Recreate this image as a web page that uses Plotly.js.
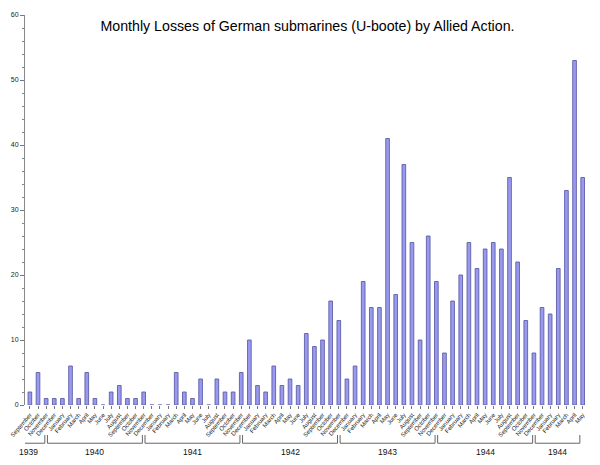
<!DOCTYPE html>
<html>
<head>
<meta charset="utf-8">
<script src="https://cdn.plot.ly/plotly-3.0.1.min.js"></script>
<style>html,body{margin:0;padding:0;background:#fff;}#chart{width:600px;height:465px;}</style>
</head>
<body>
<div id="chart"></div>
<script>
const months = [
  'September','October','November','December',
  'January','February','March','April','May','June','July','August','September','October','November','December',
  'January','February','March','April','May','June','July','August','September','October','November','December',
  'January','February','March','April','May','June','July','August','September','October','November','December',
  'January','February','March','April','May','June','July','August','September','October','November','December',
  'January','February','March','April','May','June','July','August','September','October','November','December',
  'January','February','March','April','May'
];
const losses = [
  2,5,1,1,
  1,6,1,5,1,0,2,3,1,1,2,0,
  0,0,5,2,1,4,0,4,2,2,5,10,
  3,2,6,3,4,3,11,9,10,16,13,4,
  6,19,15,15,41,17,37,25,10,26,19,8,
  16,20,25,21,24,25,24,35,22,13,8,15,
  14,21,33,53,35
];
const yearLabels = ['1939','1940','1941','1942','1943','1944','1944'];
const yearStarts = [0,4,16,28,40,52,64];

const idx = months.map((m,i)=>i);

const shapes = [];
const annotations = [];
const gap = 0.16;
for (let g=0; g<yearLabels.length; g++) {
  let left = yearStarts[g] - 2 + gap;
  let right = (g+1<yearStarts.length ? yearStarts[g+1] - 2 - gap : months.length - 1.35);
  if (g===0) left = yearStarts[0] - 2.2;
  const line = {color:'#666', width:1};
  shapes.push({type:'line', xref:'x', yref:'paper', x0:left, x1:right, y0:-0.098, y1:-0.098, line});
  shapes.push({type:'line', xref:'x', yref:'paper', x0:left, x1:left, y0:-0.098, y1:-0.077, line});
  shapes.push({type:'line', xref:'x', yref:'paper', x0:right, x1:right, y0:-0.098, y1:-0.077, line});
  annotations.push({xref:'x', yref:'paper', x:(left+right)/2, y:-0.103, yanchor:'top', xanchor:'center',
    text:yearLabels[g], showarrow:false, font:{size:8.5, color:'#111', family:'Liberation Sans, Arial, sans-serif'}});
}

const trace = {
  type:'bar', x:idx, y:losses, width:0.45,
  marker:{color:'#9999f0', line:{color:'#5e5ea8', width:0.9}},
  hoverinfo:'y'
};

const layout = {
  width:600, height:465,
  margin:{l:25, r:10, t:15, b:60},
  paper_bgcolor:'#fff', plot_bgcolor:'#fff',
  showlegend:false,
  title:{text:'Monthly Losses of German submarines (U-boote) by Allied Action.',
    x:0.5, xref:'paper', y:1-26/465, yref:'container', yanchor:'middle',
    font:{size:14.2, color:'#000', family:'Liberation Sans, Arial, sans-serif'}},
  xaxis:{range:[-0.6, 68.9], tickvals:idx, ticktext:months, tickangle:-50,
    ticks:'outside', ticklen:3, tickcolor:'#777', showline:false, zeroline:false, showgrid:false,
    tickfont:{size:6, color:'#222', family:'Liberation Sans, Arial, sans-serif'}, automargin:false},
  yaxis:{range:[0,60], dtick:10, ticks:'outside', ticklen:4, tickcolor:'#777',
    showline:true, linecolor:'#888', linewidth:1, zeroline:false, showgrid:false,
    minor:{dtick:2, ticks:'outside', ticklen:2, tickcolor:'#888'},
    tickfont:{size:7, color:'#222', family:'Liberation Sans, Arial, sans-serif'}, automargin:false},
  bargap:0.5,
  shapes, annotations
};

Plotly.newPlot('chart', [trace], layout, {displayModeBar:false, staticPlot:true});
</script>
</body>
</html>
